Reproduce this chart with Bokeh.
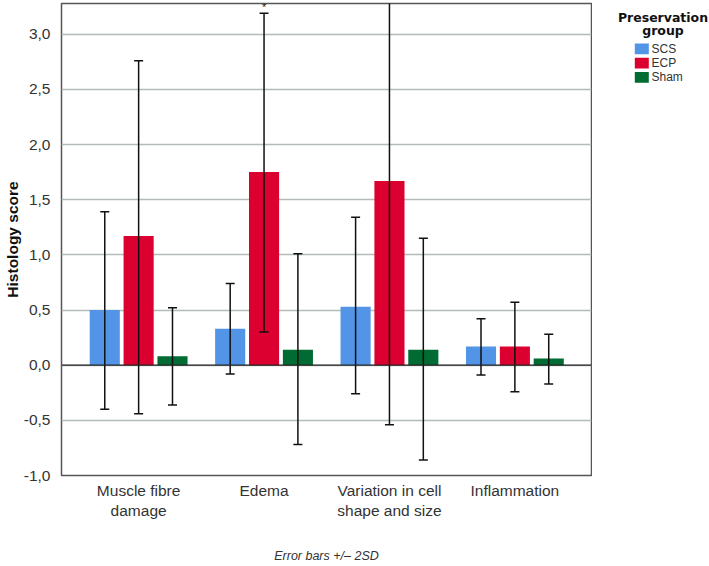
from bokeh.plotting import figure
from bokeh.layouts import row
from bokeh.models import (Range1d, FixedTicker, CustomJSTickFormatter, Span, ColumnDataSource)
from bokeh.core.properties import value
from bokeh.embed import file_html
from bokeh.resources import INLINE

# ---- data ----
categories = ["Muscle fibre\ndamage", "Edema", "Variation in cell\nshape and size", "Inflammation"]
groups = ["SCS", "ECP", "Sham"]
scs_mean = [0.50, 0.33, 0.53, 0.17]
scs_low = [-0.40, -0.08, -0.26, -0.09]
scs_high = [1.39, 0.74, 1.34, 0.42]
ecp_mean = [1.17, 1.75, 1.67, 0.17]
ecp_low = [-0.44, 0.30, -0.54, -0.24]
ecp_high = [2.76, 3.19, 3.88, 0.57]
sham_mean = [0.08, 0.14, 0.14, 0.06]
sham_low = [-0.36, -0.72, -0.86, -0.17]
sham_high = [0.52, 1.01, 1.15, 0.28]
y_ticks = [-1.0, -0.5, 0.0, 0.5, 1.0, 1.5, 2.0, 2.5, 3.0]
significance = [("Edema", "ECP", "*")]
legend_title = ["Preservation", "group"]
caption = "Error bars +/\u2013 2SD"

colors = ["#5294e6", "#dc0030", "#006b32"]
means = [scs_mean, ecp_mean, sham_mean]
lows = [scs_low, ecp_low, sham_low]
highs = [scs_high, ecp_high, sham_high]

FONT = "Liberation Sans"
TXT = "#333333"

p = figure(width=592, height=566, output_backend="svg", toolbar_location=None,
           x_range=Range1d(0.385, 4.611), y_range=Range1d(-1.0, 3.278),
           min_border_left=61, min_border_right=1, min_border_top=3, min_border_bottom=91)
p.background_fill_color = "white"
p.border_fill_color = "white"
p.outline_line_color = "#555555"
p.outline_line_width = 1.5

xpos = list(range(1, len(categories) + 1))
offsets = [-0.27, 0.0, 0.27]
bar_w = 0.24

for g, c, m, off in zip(groups, colors, means, offsets):
    src = ColumnDataSource(dict(x=[v + off for v in xpos], top=m))
    p.vbar(x="x", top="top", bottom=0, width=bar_w, source=src,
           fill_color=c, line_color=None)

p.add_layout(Span(location=0, dimension="width", line_color="#222222", line_width=1.2))

for off, lo, hi in zip(offsets, lows, highs):
    xs = [v + off for v in xpos]
    p.segment(x0=xs, y0=lo, x1=xs, y1=hi, line_color="#111111", line_width=1.5)
    p.scatter(x=xs + xs, y=lo + hi, marker="dash", size=9, line_color="#111111",
              line_width=1.5)

# significance marker above the error bar
cat_plain = [c.replace("\n", " ") for c in categories]
for cat, grp, mark in significance:
    ci = cat_plain.index(cat)
    gi = groups.index(grp)
    p.text(x=[xpos[ci] + offsets[gi]], y=[highs[gi][ci] + 0.055], text=[mark],
           text_align="center", text_baseline="middle", text_font=value(FONT),
           text_font_size="11px", text_color="#111111")

# axes
p.xaxis.ticker = FixedTicker(ticks=xpos)
p.xaxis.major_label_overrides = {v: c for v, c in zip(xpos, categories)}
p.yaxis.ticker = FixedTicker(ticks=y_ticks)
p.yaxis.formatter = CustomJSTickFormatter(code="return tick.toFixed(1).replace('.', ',');")
for ax in (p.xaxis[0], p.yaxis[0]):
    ax.axis_line_color = None
    ax.major_tick_line_color = None
    ax.minor_tick_line_color = None
    ax.major_label_text_font = FONT
    ax.major_label_text_font_size = "15.5px"
    ax.major_label_text_color = TXT
p.xaxis.major_label_standoff = 0
p.yaxis.major_label_standoff = 5
p.yaxis.axis_label = "Histology score"
p.yaxis.axis_label_text_font = FONT
p.yaxis.axis_label_text_font_size = "15.5px"
p.yaxis.axis_label_text_font_style = "bold"
p.yaxis.axis_label_text_color = "#111111"
p.yaxis.axis_label_standoff = 0
p.xaxis.axis_label = caption
p.xaxis.axis_label_text_font = FONT
p.xaxis.axis_label_text_font_size = "12.5px"
p.xaxis.axis_label_text_font_style = "italic"
p.xaxis.axis_label_text_color = TXT
p.xaxis.axis_label_standoff = 27

p.xgrid.grid_line_color = None
p.ygrid.grid_line_color = "#b3bcb9"
p.ygrid.grid_line_width = 1.5

# ---- legend panel (its own small figure, pixel coordinates) ----
lw = 117
q = figure(width=lw, height=566, output_backend="svg", toolbar_location=None,
           x_range=Range1d(0, lw), y_range=Range1d(566, 0),
           x_axis_type=None, y_axis_type=None,
           min_border_left=0, min_border_right=0, min_border_top=0, min_border_bottom=0)
q.outline_line_color = None
q.xgrid.grid_line_color = None
q.ygrid.grid_line_color = None
q.background_fill_color = "white"
q.border_fill_color = "white"

q.text(x=[70.5, 70.5], y=[16.7, 32.3], text=legend_title, text_align="center",
       text_baseline="middle", text_font=value("DejaVu Sans"), text_font_size="12.5px",
       text_font_style="bold", text_color="#111111")
ys = [54.5 + 17 * i for i in range(len(groups))]
q.rect(x=[49.3] * len(groups), y=ys, width=14, height=13, fill_color=colors, line_color=None)
q.text(x=[59] * len(groups), y=ys, text=groups, text_align="left", text_baseline="middle",
       text_font=value(FONT), text_font_size="12px", text_color=TXT)

layout = row(p, q, spacing=0)
open("out.html", "w").write(file_html(layout, INLINE))
